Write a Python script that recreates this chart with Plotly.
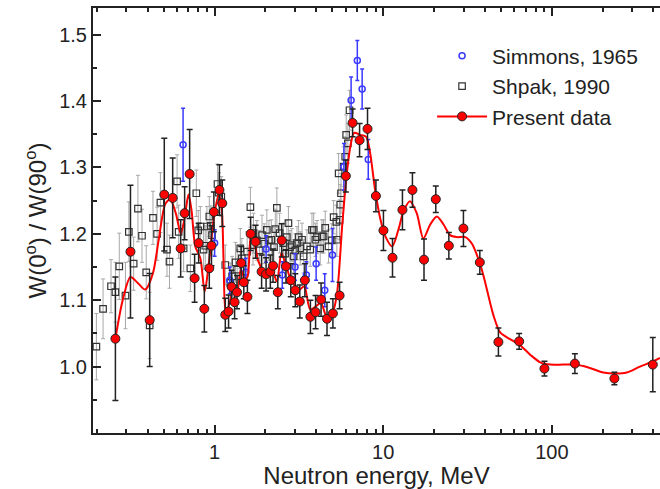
import plotly.graph_objects as go
import math

# ---------------- data ----------------
# Present data (red points): energy MeV, W(0)/W(90), error
present_E = [0.258, 0.317, 0.412, 0.503, 0.564, 0.629, 0.664, 0.711, 0.761, 0.804,
             0.869, 0.930, 0.958, 0.990, 1.068, 1.110, 1.157, 1.21, 1.262, 1.314,
             1.358, 1.437, 1.49, 1.565, 1.635, 1.75, 1.90, 2.02, 2.14, 2.22,
             2.37, 2.50, 2.65, 2.83, 3.01, 3.20, 3.43, 3.70, 3.97, 4.28,
             4.64, 5.03, 5.51, 6.0, 6.58, 7.24, 8.07, 9.05, 10.03, 11.35,
             13.0, 14.9, 17.45, 20.5, 24.5, 29.9, 37.4, 48.2, 64.0, 90.4,
             137, 235, 397]
present_W = [1.042, 1.173, 1.070, 1.259, 1.254, 1.178, 1.231, 1.290, 1.133, 1.186,
             1.087, 1.148, 1.182, 1.233, 1.266, 1.246, 1.078, 1.083, 1.120, 1.097,
             1.112, 1.156, 1.127, 1.105, 1.200, 1.188, 1.143, 1.139, 1.143, 1.152,
             1.112, 1.190, 1.151, 1.130, 1.115, 1.098, 1.130, 1.075, 1.082, 1.101,
             1.072, 1.080, 1.107, 1.287, 1.367, 1.341, 1.358, 1.257, 1.205, 1.164,
             1.236, 1.266, 1.161, 1.252, 1.182, 1.208, 1.157, 1.037, 1.038, 0.997,
             1.0045, 0.982, 1.003]
present_err = [0.093, 0.10, 0.07, 0.085, 0.06, 0.043, 0.04, 0.067, 0.036, 0.03,
               0.035, 0.03, 0.03, 0.03, 0.038, 0.035, 0.025, 0.025, 0.025, 0.025,
               0.025, 0.025, 0.025, 0.025, 0.025, 0.025, 0.025, 0.025, 0.025, 0.025,
               0.025, 0.025, 0.025, 0.025, 0.025, 0.025, 0.025, 0.025, 0.025, 0.025,
               0.025, 0.022, 0.02, 0.024, 0.021, 0.025, 0.031, 0.024, 0.03, 0.029,
               0.03, 0.026, 0.031, 0.02, 0.02, 0.027, 0.018, 0.021, 0.012, 0.011,
               0.015, 0.0095, 0.041]

# Fit curve through present data
curve_E = [0.258, 0.285, 0.317, 0.35, 0.388, 0.43, 0.466, 0.51, 0.545, 0.59,
           0.63, 0.665, 0.70, 0.73, 0.768, 0.823, 0.873, 0.92, 0.987, 1.056,
           1.10, 1.13, 1.165, 1.24, 1.296, 1.36, 1.43, 1.51, 1.57, 1.64,
           1.73, 1.82, 1.93, 2.04, 2.19, 2.34, 2.49, 2.66, 2.81, 3.01,
           3.19, 3.40, 3.69, 4.00, 4.27, 4.64, 5.03, 5.32, 5.72, 6.1,
           6.43, 6.72, 7.3, 7.92, 8.37, 8.95, 9.62, 10.35, 11.3, 12.3,
           13.2, 14.4, 15.8, 17.3, 19.0, 20.8, 22.8, 24.9, 27.3, 30.7,
           33.6, 36.8, 39.4, 41.2, 45.2, 49.5, 56.8, 65.0, 74.4, 85.3,
           97.8, 117, 137, 168, 202, 238, 278, 333, 400, 438]
curve_W = [1.042, 1.10, 1.135, 1.126, 1.116, 1.14, 1.191, 1.245, 1.252, 1.23,
           1.200, 1.225, 1.259, 1.235, 1.181, 1.163, 1.113, 1.151, 1.221, 1.259,
           1.24, 1.16, 1.08, 1.100, 1.121, 1.111, 1.146, 1.131, 1.136, 1.196,
           1.183, 1.158, 1.146, 1.142, 1.146, 1.128, 1.171, 1.151, 1.133, 1.121,
           1.116, 1.121, 1.086, 1.091, 1.096, 1.074, 1.083, 1.110, 1.215, 1.294,
           1.336, 1.352, 1.349, 1.346, 1.321, 1.266, 1.222, 1.195, 1.181, 1.206,
           1.234, 1.249, 1.231, 1.193, 1.214, 1.226, 1.214, 1.198, 1.195, 1.195,
           1.185, 1.161, 1.136, 1.116, 1.076, 1.051, 1.041, 1.032, 1.018, 1.0065,
           1.003, 1.003, 1.003, 0.998, 0.991, 0.9895, 0.991, 1.0, 1.008, 1.013]

# Simmons, 1965 (blue open circles)
simmons_E = [0.65, 1.0, 1.23, 1.53, 2.02, 2.52, 3.0, 3.5, 4.0, 4.5,
             5.0, 5.85, 6.45, 7.02, 7.5, 8.15]
simmons_W = [1.334, 1.186, 1.13, 1.142, 1.177, 1.138, 1.150, 1.138, 1.155, 1.115,
             1.168, 1.301, 1.401, 1.461, 1.418, 1.312]
simmons_err = [0.055, 0.02, 0.02, 0.021, 0.02, 0.02, 0.02, 0.02, 0.025, 0.025,
               0.04, 0.035, 0.035, 0.03, 0.03, 0.03]

# Shpak, 1990 (grey open squares)
shpak_E = [0.199, 0.218, 0.243, 0.258, 0.272, 0.296, 0.31, 0.331, 0.351, 0.371,
           0.393, 0.412, 0.431, 0.456, 0.477, 0.522, 0.54, 0.599, 0.612, 0.655,
           0.718, 0.779, 0.80, 0.823, 0.86, 0.88, 0.90, 0.93, 0.95, 0.965,
           1.04, 1.06, 1.095, 1.157, 1.24, 1.27, 1.33, 1.36, 1.42, 1.45,
           1.56, 1.63, 1.69, 1.70, 1.78, 1.85, 1.91, 1.97, 2.04, 2.10,
           2.17, 2.25, 2.29, 2.34, 2.43, 2.56, 2.62, 2.68, 2.74, 2.80,
           2.87, 2.94, 3.01, 3.08, 3.15, 3.22, 3.30, 3.37, 3.53, 3.69,
           3.78, 3.87, 3.96, 4.05, 4.23, 4.33, 4.43, 4.53, 4.74, 4.95,
           5.08, 5.27, 5.31, 5.44, 5.51, 5.56, 5.62, 5.82, 5.95, 6.03,
           6.17, 6.31]
shpak_W = [1.030, 1.087, 1.121, 1.112, 1.151, 1.107, 1.203, 1.155, 1.238, 1.197,
           1.142, 1.062, 1.224, 1.200, 1.247, 1.176, 1.158, 1.279, 1.203, 1.178,
           1.148, 1.261, 1.205, 1.211, 1.176, 1.182, 1.211, 1.226, 1.212, 1.198,
           1.275, 1.262, 1.256, 1.153, 1.126, 1.136, 1.157, 1.146, 1.178, 1.163,
           1.173, 1.240, 1.183, 1.201, 1.19, 1.175, 1.198, 1.185, 1.206, 1.19,
           1.191, 1.18, 1.207, 1.239, 1.201, 1.186, 1.17, 1.195, 1.216, 1.18,
           1.183, 1.166, 1.175, 1.186, 1.195, 1.178, 1.191, 1.166, 1.181, 1.176,
           1.206, 1.206, 1.191, 1.195, 1.178, 1.196, 1.196, 1.209, 1.181, 1.19,
           1.225, 1.218, 1.191, 1.291, 1.221, 1.244, 1.261, 1.301, 1.316, 1.349,
           1.336, 1.386]
shpak_err = [0.05, 0.045, 0.04, 0.045, 0.05, 0.05, 0.045, 0.04, 0.05, 0.04,
             0.04, 0.05, 0.04, 0.04, 0.045, 0.04, 0.04, 0.04, 0.04, 0.035,
             0.035, 0.035, 0.03, 0.03, 0.03, 0.03, 0.03, 0.03, 0.03, 0.03,
             0.03, 0.03, 0.03, 0.03, 0.03, 0.03, 0.03, 0.03, 0.03, 0.03,
             0.03, 0.03, 0.03, 0.03, 0.03, 0.03, 0.03, 0.03, 0.03, 0.03,
             0.03, 0.03, 0.03, 0.03, 0.03, 0.03, 0.025, 0.025, 0.025, 0.025,
             0.025, 0.025, 0.025, 0.025, 0.025, 0.025, 0.025, 0.025, 0.025, 0.025,
             0.025, 0.025, 0.025, 0.025, 0.025, 0.025, 0.025, 0.025, 0.025, 0.025,
             0.025, 0.025, 0.025, 0.03, 0.03, 0.03, 0.03, 0.03, 0.03, 0.03,
             0.03, 0.03]

x_tick_vals = [1, 10, 100]
x_tick_text = ["1", "10", "100"]
x_minor_vals = [m * d for d in (0.1, 1, 10, 100) for m in range(2, 10)]
y_tick_vals = [1.0, 1.1, 1.2, 1.3, 1.4, 1.5]
y_tick_text = ["1.0", "1.1", "1.2", "1.3", "1.4", "1.5"]
y_minor_vals = [0.95, 1.05, 1.15, 1.25, 1.35, 1.45]

# ---------------- figure ----------------
FONT = "Liberation Sans, Arial, sans-serif"
INK = "#222222"
fig = go.Figure()

fig.add_trace(go.Scatter(
    x=shpak_E, y=shpak_W, mode="markers", name="Shpak, 1990", showlegend=False,
    error_y=dict(type="data", array=shpak_err, color="#a8a8a8", thickness=1, width=2),
    marker=dict(symbol="square-open", size=6.5, color="#333333", line=dict(width=1.2)),
))
fig.add_trace(go.Scatter(
    x=simmons_E, y=simmons_W, mode="markers", name="Simmons, 1965", showlegend=False,
    error_y=dict(type="data", array=simmons_err, color="#3a3aff", thickness=1.5, width=2),
    marker=dict(symbol="circle-open", size=6, color="#3a3aff", line=dict(width=1.5)),
))
fig.add_trace(go.Scatter(
    x=curve_E, y=curve_W, mode="lines", showlegend=False,
    line=dict(color="#ff0000", width=2, shape="spline", smoothing=0.8),
))
fig.add_trace(go.Scatter(
    x=present_E, y=present_W, mode="markers", showlegend=False,
    error_y=dict(type="data", array=present_err, color=INK, thickness=1.5, width=3),
    marker=dict(symbol="circle", size=9, color="#ff0000", line=dict(color=INK, width=1)),
))

# legend entries
fig.add_trace(go.Scatter(x=[None], y=[None], mode="markers", name="Simmons, 1965",
                         marker=dict(symbol="circle-open", size=6, color="#3a3aff", line=dict(width=1.5))))
fig.add_trace(go.Scatter(x=[None], y=[None], mode="markers", name="Shpak, 1990",
                         marker=dict(symbol="square-open", size=6.5, color="#333333", line=dict(width=1.2))))
fig.add_trace(go.Scatter(x=[None], y=[None], mode="lines+markers", name="Present data",
                         line=dict(color="#ff0000", width=2),
                         marker=dict(symbol="circle", size=9, color="#ff0000", line=dict(color=INK, width=1))))

fig.update_layout(
    width=660, height=489,
    margin=dict(l=93, r=0, t=8, b=56),
    paper_bgcolor="white", plot_bgcolor="white",
    font=dict(family=FONT, color=INK),
    legend=dict(x=0.598, y=0.935, xanchor="left", yanchor="top",
                font=dict(size=21, family=FONT, color=INK),
                bgcolor="rgba(0,0,0,0)", itemwidth=50, tracegroupgap=0),
    xaxis=dict(
        type="log", range=[math.log10(0.19), math.log10(438)],
        tickvals=x_tick_vals, ticktext=x_tick_text,
        ticks="inside", ticklen=8, tickwidth=1.5, tickcolor=INK,
        minor=dict(tickvals=x_minor_vals, ticks="inside", ticklen=4, tickwidth=1.5, tickcolor=INK),
        showline=True, linecolor=INK, linewidth=2, mirror="ticks",
        showgrid=False, zeroline=False,
        tickfont=dict(size=20, family=FONT, color=INK),
        title=dict(text="Neutron energy, MeV", font=dict(size=24, family=FONT, color=INK), standoff=5),
    ),
    yaxis=dict(
        range=[0.90, 1.54], tickvals=y_tick_vals, ticktext=y_tick_text,
        ticks="inside", ticklen=8, tickwidth=1.5, tickcolor=INK,
        minor=dict(tickvals=y_minor_vals, ticks="inside", ticklen=4, tickwidth=1.5, tickcolor=INK),
        showline=True, linecolor=INK, linewidth=2, mirror=False,
        showgrid=False, zeroline=False,
        tickfont=dict(size=20, family=FONT, color=INK),
        title=dict(text="W(0<sup>o</sup>) / W(90<sup>o</sup>)", font=dict(size=24, family=FONT, color=INK), standoff=6),
    ),
)

fig.write_html("out.html")
